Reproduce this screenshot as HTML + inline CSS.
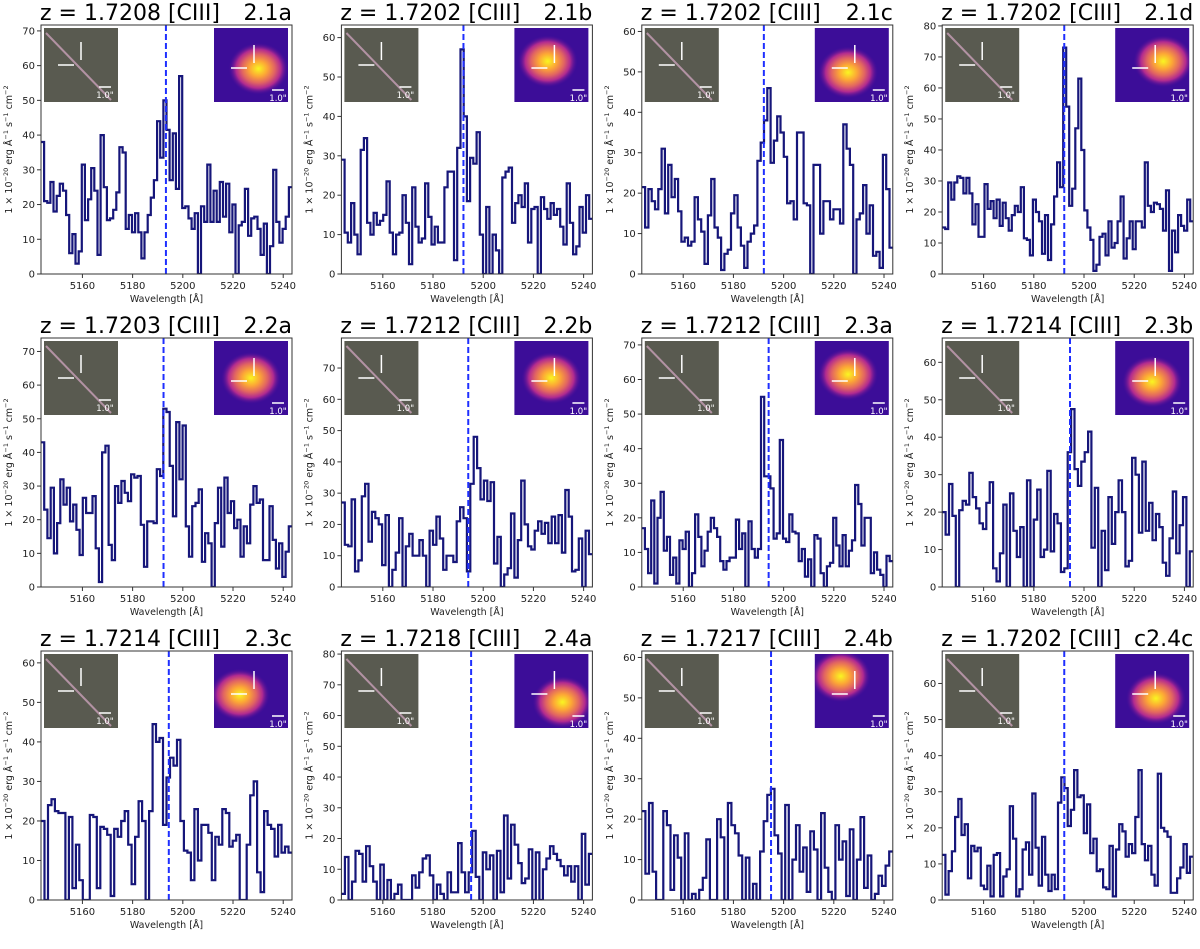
<!DOCTYPE html>
<html><head><meta charset="utf-8">
<style>
html,body{margin:0;padding:0;background:#fff;}
svg text{font-family:"DejaVu Sans","Liberation Sans",sans-serif;}
</style></head>
<body>
<svg id="fig" width="1200" height="944" viewBox="0 0 1200 944" xmlns="http://www.w3.org/2000/svg">
<defs>
<radialGradient id="plasma" cx="50%" cy="50%" r="50%">
<stop offset="0%" stop-color="#f9f621"/><stop offset="30%" stop-color="#fca636"/><stop offset="55%" stop-color="#e16462"/><stop offset="75%" stop-color="#b12a90"/><stop offset="100%" stop-color="#4b0c9c" stop-opacity="0"/>
</radialGradient>
</defs>
</svg>
<script>
const titles = ["z = 1.7208 [CIII]","z = 1.7202 [CIII]","z = 1.7202 [CIII]","z = 1.7202 [CIII]","z = 1.7203 [CIII]","z = 1.7212  [CIII]","z = 1.7212  [CIII]","z = 1.7214  [CIII]","z = 1.7214  [CIII]","z = 1.7218  [CIII]","z = 1.7217  [CIII]","z = 1.7202 [CIII]"];
const ids = ["2.1a","2.1b","2.1c","2.1d","2.2a","2.2b","2.3a","2.3b","2.3c","2.4a","2.4b","c2.4c"];
const redshifts = [1.7208,1.7202,1.7202,1.7202,1.7203,1.7212,1.7212,1.7214,1.7214,1.7218,1.7217,1.7202];
const yMaxes = [71.7,63.2,61.6,80.3,74,79.6,72,66.5,63,81,61.6,69];
const xTicks = [5160,5180,5200,5220,5240];
const xRange = [5143.5,5243.5];
const restWave = 1908.73;
const flux2_1a = [38,21,20.5,26.5,18,22.5,26,24,17,6,11.5,3,6.5,31.5,15.5,21.5,30.5,24,5.5,40,25,15.5,16,18.5,23.5,36.5,35,13,17,12,17.5,12,4.5,12,17,22,27,44,33.5,50,41.5,27,40.5,24.5,57,19,19.5,16,13,17.5,0,19.5,15,31.5,15,24,15,26.5,16.5,26,12,20,0,14,15,24.5,11,16,16.5,13,5.5,14.5,0,8,30,15,9,13,16.5,25];
const flux2_1b = [29,10.5,8,18,10,5,31.5,34.5,13,10,15.5,12.5,13.5,15,23.5,10.5,5,10,10.5,20,13,2.5,22,12,8,9,23,14.5,7.5,12,8,8,22,26,26,3.5,32,57,40,18.5,29.5,28,36,10,0,17,0,10,6,0,24.5,26,27,13,18,20,17,23,8,16.5,17,0,19.5,16.5,14,18,15,16.5,12,7.5,23,13,5,7,17,10.5,20,14];
const flux2_1c = [21.5,11.5,21,18,16,21,31,15,27,19,23.5,15.5,8,9,7,8,19,13.5,10.5,2.5,14.5,23.5,11.5,9,1,5,6,15,19.5,11.5,7,1.5,8,10,12,28,32.5,38,46,27.5,33,39,35,29,17.5,18,13.5,35,35,17.5,17,0,27,27,10,18,18,13.5,16,16,12.5,37,31,27,0,13.5,15,22,10,17,4.5,5.5,1.5,29.5,21,6.5];
const flux2_1d = [15,14.5,29.5,24,29.5,31.5,31,26,31,26,16,22.5,12,12,29,21,23.5,18,24,15.5,23,18,14,19,22,20,28,11.5,11,6,24,20,17,6.5,19,4.5,16,25,36,28,73,54,22,27.5,47,63,40,20.5,15,11,1,3,12,13,6,17,8.5,10,17,25,5,11.5,17,8,17,17,15,36,22,20,23,22.5,21,14,27,1,14,7,19,15.5,14,24,17];
const flux2_2a = [43,23,14.5,29.5,10,19,32,24.5,29.5,19.5,24.5,17,9.5,26.5,22,22,27,11.5,1.5,40,42,12.5,8,30,25,31.5,28,25.5,33.5,32.5,33,18.5,6,19.5,19.5,19,35,33,53,52,36,21,49,32,48,18,9,24,25,29,7.5,16,13,0,19,29.5,12,32.5,22,25.5,17.5,20,9,18,13,24.5,30,25,26,8,8,24,14,5.5,13,3,10.5,18];
const flux2_2b = [27,13.5,13,28,5,8.5,29,33,14.5,24,22,20,7,23,0,5.5,11,22,0,13,17,10,10,15,10,0,18,13.5,22.5,15.5,5.5,10,10,8,21,25.5,22,5,33,48,38,28,34,27.5,33.5,7.5,16,0,4,6,23.5,3,15,34,20,13,12,18,21,17,20.5,14,22.5,14,23,11,31,22.5,5,5.5,15.5,0,18,10.5];
const flux2_3a = [17,11,4,25,1,20,27.5,10.5,14.5,3.5,8.5,1,13.5,11,16,0,4,21,14.5,6,10.5,16,20,17,14.5,7.5,5,7.5,8.5,8.5,19.5,11,15.5,0,19,11,8.5,11,55,32,32,28.5,14,15.5,42.5,14,13,21,16,15.5,7.5,11,3,8,0,15,14,4,0,6,7,20,12,6,15,6,10.5,13.5,29.5,24,12,20,20,4,10,5,3.5,0,9,7.5];
const flux2_3b = [20,14,27.5,19,0,20.5,23,22,30.5,24,21,17,15.5,22.5,28,5,1.5,9,22,0,25,15,8,16,0,28.5,0,18,26,8,10,31,9.5,19.5,17,4,5,36,47.5,31.5,27,33.5,36,41.5,10.5,26.5,0,15,4.5,24,11.5,20,28.5,20,5.5,7,34.5,30,14.5,33.5,15,22.5,12.5,19.5,16,6.5,3,13,25.5,9,16.5,24,0,9.5];
const flux2_3c = [20,0,24,25.5,22.5,22,22,0,21,3,14,5,0,0,21.5,21,3,18.5,18,16.5,1,18,16,20,22.5,14,4,16,25,20,0,22.5,44.5,40,41,19,31,36,34,40.5,20,12.5,12,5,23,10,19,19,17,5,16,14,23,22,13.5,15,16.5,0,0,14,26.5,30,7,2,22.5,19,18,11,19,12,13.5,12];
const flux2_4a = [2,14,0,6,16,15,6,17.5,11,6,0,11.5,0,6.5,0,2,5,0,0,0,8,4,9,13.5,14.5,8,0,5,2,0,9,2.5,2.5,18.5,9,2.5,9,22.5,7.5,0,15.5,10,14.5,0,16,2.5,27.5,7,24.5,18,12,5.5,7,16.5,0,15.5,0,10,13.5,17.5,15,13,11,8,11,6,11,0,21.5,5,15];
const flux2_4b = [22,6.5,24,7,0,0,22,18.5,2.5,16,10.5,0,16.5,0,1.5,0,2.5,5.5,15,0,0,20,15.5,0,24,18.5,16.5,11,0,10.5,0,4,0,12,19.5,26,27.5,16,11.5,0,23.5,0,10,18.5,7,13,2,17,12.5,0,21.5,8,2,0,18.5,10,14.5,1,17.5,0,10,20.5,3,11,0,1.5,6,3.5,8.5,12];
const fluxc2_4c = [12.5,1.5,8,13.5,23,28,18,21,6,15,13.5,14.5,4,3,9.5,1,12.5,13,1,6.5,8.5,26,17,1,3,14,16,7,29.5,14.5,4,17.5,7,2.5,7,3,27,34,31,20.5,25,36,28.5,29,18.5,26.5,13,17,8,8.5,3.5,3,15,1,14,21,19,12,15.5,13,23,36,15.5,11,15,7,4,35,20,19,17.5,2,2,6,9,15.5,7.5,12];
const fluxes = [flux2_1a,flux2_1b,flux2_1c,flux2_1d,flux2_2a,flux2_2b,flux2_3a,flux2_3b,flux2_3c,flux2_4a,flux2_4b,fluxc2_4c];
const blobPos = [[0.6,0.55],[0.45,0.45],[0.45,0.6],[0.65,0.45],[0.5,0.5],[0.5,0.5],[0.45,0.45],[0.5,0.55],[0.35,0.55],[0.65,0.65],[0.35,0.3],[0.55,0.6]];

const NS="http://www.w3.org/2000/svg";
const svg=document.getElementById('fig');
function mk(tag,attrs,parent){const e=document.createElementNS(NS,tag);for(const k in attrs)e.setAttribute(k,attrs[k]);(parent||svg).appendChild(e);return e;}

const AX_W=251, AX_H=249;
for(let p=0;p<12;p++){
  const col=p%4,row=Math.floor(p/4);
  const L=41+col*300.4, T=25+row*313, B=T+AX_H, R=L+AX_W;
  const yMax=yMaxes[p];
  const xs=v=>L+(v-xRange[0])/(xRange[1]-xRange[0])*AX_W;
  const ys=v=>B-v/yMax*AX_H;
  const g=mk('g',{});
  
  
  const t1=mk('text',{x:L-1,y:T-5,'font-size':22,fill:'#000'},g);t1.textContent=titles[p];
  
  
  const t2=mk('text',{x:R,y:T-5,'font-size':22,fill:'#000','text-anchor':'end'},g);t2.textContent=ids[p];
  
  
  const cp=mk('clipPath',{id:'c'+p},g);mk('rect',{x:L,y:T,width:AX_W,height:AX_H},cp);
  const d=fluxes[p];const n=d.length;const bw=(xRange[1]-xRange[0])/n;
  let path='';
  for(let i=0;i<n;i++){const x0=xs(xRange[0]+i*bw),x1=xs(xRange[0]+(i+1)*bw),y=ys(d[i]);path+=(i?'L':'M')+x0.toFixed(1)+','+y.toFixed(1)+'L'+x1.toFixed(1)+','+y.toFixed(1);}
  const sp=mk('path',{d:path,fill:'none',stroke:'#16167a','stroke-width':2.2,'clip-path':'url(#c'+p+')'},g);
  
  
  const lw=restWave*(1+redshifts[p]);
  const dl=mk('line',{x1:xs(lw),x2:xs(lw),y1:T,y2:B,stroke:'#1f2fff','stroke-width':2,'stroke-dasharray':'6,3'},g);
  
  
  const li=mk('g',{},g);
  
  
  mk('rect',{x:L+3,y:T+3,width:74,height:74,fill:'#595a50'},li);
  mk('line',{x1:L+5,y1:T+8,x2:L+70,y2:T+75,stroke:'#c9a0b8','stroke-width':2,opacity:0.8},li);
  mk('line',{x1:L+40,y1:T+17,x2:L+40,y2:T+35,stroke:'#fff','stroke-width':1.5},li);
  mk('line',{x1:L+17,y1:T+40,x2:L+33,y2:T+40,stroke:'#fff','stroke-width':1.5},li);
  mk('line',{x1:L+58,y1:T+62,x2:L+70,y2:T+62,stroke:'#fff','stroke-width':1.5},li);
  const s1=mk('text',{x:L+64,y:T+73,'font-size':8.5,fill:'#fff','text-anchor':'middle'},li);s1.textContent='1.0"';
  const ri=mk('g',{},g);
  
  
  const rx=R-78,ry=T+3;
  const cpi=mk('clipPath',{id:'ci'+p},g);mk('rect',{x:rx,y:ry,width:74,height:74},cpi);
  mk('rect',{x:rx,y:ry,width:74,height:74,fill:'#3c0d98'},ri);
  const bp=blobPos[p];
  mk('ellipse',{cx:rx+bp[0]*74,cy:ry+bp[1]*74,rx:30,ry:26,fill:'url(#plasma)','clip-path':'url(#ci'+p+')'},ri);
  mk('line',{x1:rx+40,y1:ry+17,x2:rx+40,y2:ry+35,stroke:'#fff','stroke-width':1.5},ri);
  mk('line',{x1:rx+17,y1:ry+40,x2:rx+33,y2:ry+40,stroke:'#fff','stroke-width':1.5},ri);
  mk('line',{x1:rx+58,y1:ry+62,x2:rx+70,y2:ry+62,stroke:'#fff','stroke-width':1.5},ri);
  const s2=mk('text',{x:rx+64,y:ry+73,'font-size':8.5,fill:'#fff','text-anchor':'middle'},ri);s2.textContent='1.0"';
  mk('rect',{x:L,y:T,width:AX_W,height:AX_H,fill:'none',stroke:'#333','stroke-width':1},g);
  xTicks.forEach(v=>{const x=xs(v);mk('line',{x1:x,x2:x,y1:B,y2:B+4,stroke:'#333'},g);
    const tl=mk('text',{x:x,y:B+15,'font-size':10,'text-anchor':'middle',fill:'#222'},g);tl.textContent=v;
    
    });
  const xl=mk('text',{x:L+AX_W/2,y:B+28,'font-size':9.5,'text-anchor':'middle',fill:'#222'},g);xl.textContent='Wavelength [Å]';
  
  
  for(let v=0;v<=yMax;v+=10){const y=ys(v);mk('line',{x1:L-4,x2:L,y1:y,y2:y,stroke:'#333'},g);
    const tl=mk('text',{x:L-6,y:y+3.5,'font-size':10,'text-anchor':'end',fill:'#222'},g);tl.textContent=v;
    
    }
  const yl=mk('text',{x:0,y:0,'font-size':9.5,'text-anchor':'middle',fill:'#222',transform:`translate(${L-29},${T+AX_H/2}) rotate(-90)`},g);
  yl.innerHTML='1 × 10<tspan dy="-4" font-size="6.5">−20</tspan><tspan dy="4"> erg Å</tspan><tspan dy="-4" font-size="6.5">−1</tspan><tspan dy="4"> s</tspan><tspan dy="-4" font-size="6.5">−1</tspan><tspan dy="4"> cm</tspan><tspan dy="-4" font-size="6.5">−2</tspan>';
  
  
}
</script>
</body></html>
